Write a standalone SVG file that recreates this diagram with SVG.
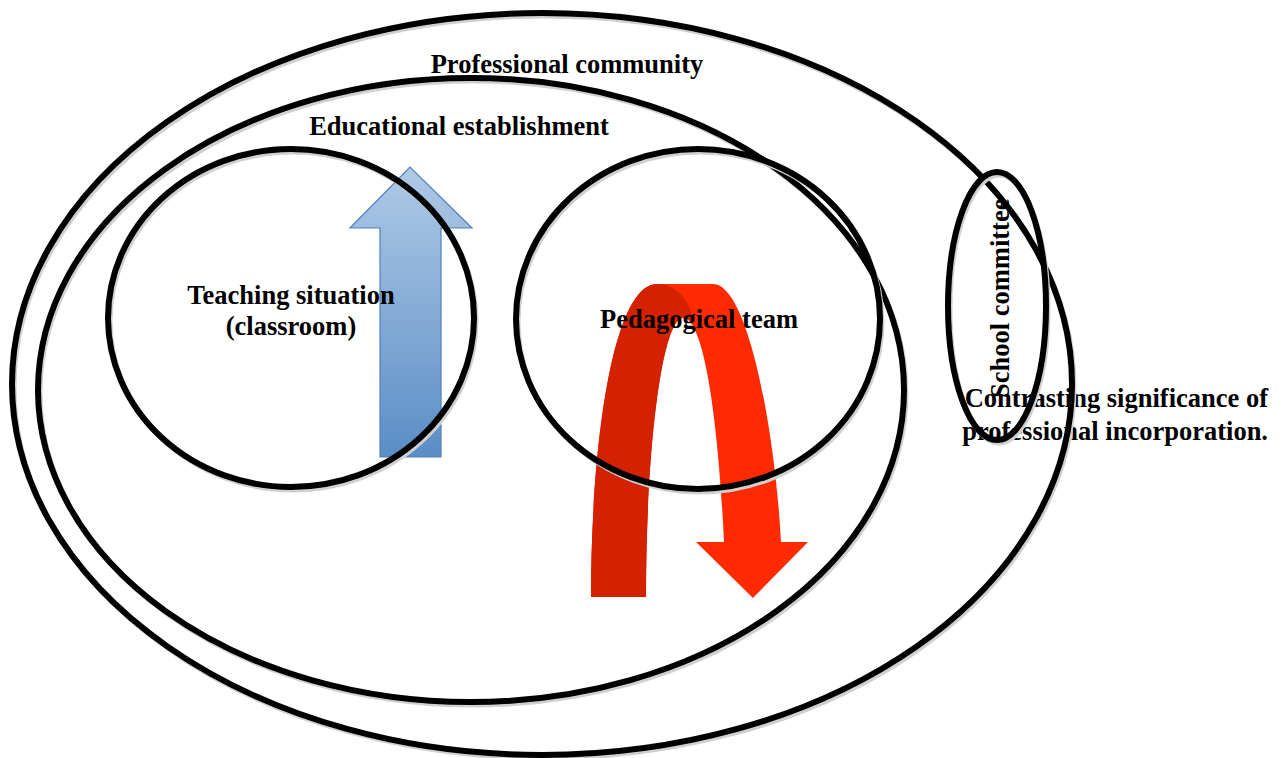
<svg xmlns="http://www.w3.org/2000/svg" width="1287" height="758" viewBox="0 0 1287 758">
<style>
.ring{fill:none;stroke:#000;stroke-width:6}
.shadow{fill:none;stroke:#d0d0d0;stroke-width:5}
.lbl{font-family:"Liberation Serif","Times New Roman",serif;font-weight:bold;font-size:26.5px;fill:#000}
</style>
<defs>
<linearGradient id="blueGrad" x1="0" y1="0" x2="0" y2="1">
<stop offset="0" stop-color="#b0c9e6"/>
<stop offset="1" stop-color="#5a8ec6"/>
</linearGradient>
<clipPath id="scClip"><rect x="960" y="193" width="80" height="220"/></clipPath>
</defs>
<rect width="1287" height="758" fill="#fff"/>

<g id="contrasting-note">
<text class="lbl" x="1268" y="407" text-anchor="end">Contrasting significance of</text>
<text class="lbl" x="1268" y="440" text-anchor="end">professional incorporation.</text>
</g>

<g id="professional-community">
<ellipse class="shadow" cx="544" cy="387" rx="530" ry="371"/>
<ellipse class="ring" cx="542" cy="384" rx="530" ry="371"/>
<text class="lbl" x="567" y="73" text-anchor="middle">Professional community</text>
</g>

<g id="educational-establishment">
<ellipse class="shadow" cx="473" cy="393" rx="433" ry="312"/>
<ellipse class="ring" cx="471" cy="390" rx="433" ry="312"/>
<text class="lbl" x="459" y="135" text-anchor="middle">Educational establishment</text>
</g>

<g id="connectors">
<path id="blue-arrow" d="M380,457 L380,228 L350,228 L410,167 L472,228 L441,228 L441,457 Z" fill="url(#blueGrad)" stroke="#4f81bd" stroke-width="1.2"/>
<g id="red-arrow">
<path d="M591,597 C591,450 612,284 657,284 L713,284 C748,284 775,430 781,542 L808,542 L753,598 L696,542 L724,542 C719,430 705,318 683,318 C662,318 646,450 646,597 Z" fill="#ff2a00"/>
<path d="M591,597 C591,450 612,284 657,284 C676,284 690,300 694,322 C690,319 687,318 683,318 C662,318 646,450 646,597 Z" fill="#d42200"/>
</g>
</g>

<g id="teaching-situation">
<ellipse class="shadow" cx="293" cy="321" rx="183" ry="169"/>
<ellipse class="ring" cx="291" cy="318" rx="183" ry="169"/>
<text class="lbl" x="291" y="304" text-anchor="middle">Teaching situation</text>
<text class="lbl" x="291" y="335" text-anchor="middle">(classroom)</text>
</g>

<g id="pedagogical-team">
<ellipse class="shadow" cx="700" cy="322" rx="182" ry="170"/>
<ellipse class="ring" cx="698" cy="319" rx="182" ry="170"/>
<text class="lbl" x="699" y="328" text-anchor="middle">Pedagogical team</text>
</g>

<g id="school-committee">
<ellipse class="shadow" cx="999" cy="309" rx="49" ry="134"/>
<ellipse class="ring" cx="997" cy="306" rx="49" ry="134"/>
<g clip-path="url(#scClip)">
<text class="lbl" transform="translate(1009,398) rotate(-90)" x="0" y="0">School committee</text>
</g>
</g>
</svg>
